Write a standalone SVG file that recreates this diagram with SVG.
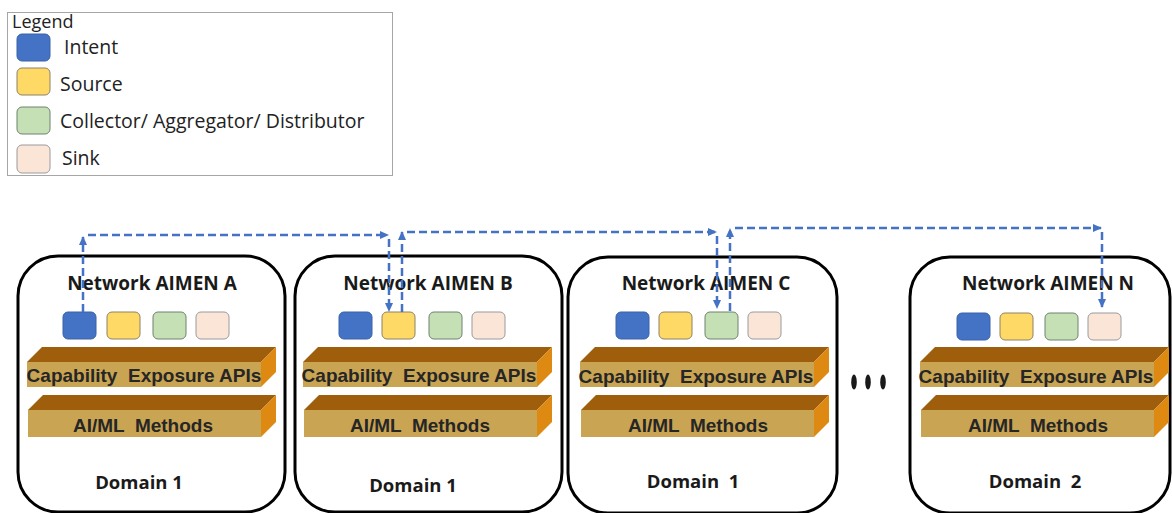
<svg xmlns="http://www.w3.org/2000/svg" width="1172" height="513" viewBox="0 0 1172 513">
<style>
.lg{font-family:"Open Sans","Noto Sans",sans-serif;font-size:19.5px;fill:#222}
.lgt{font-family:"Open Sans","Noto Sans",sans-serif;font-size:18px;fill:#222}
.title{font-family:"Open Sans","Noto Sans",sans-serif;font-size:19px;font-weight:700;fill:#1a1a1a;text-anchor:middle}
.dom{font-family:"Open Sans","Noto Sans",sans-serif;font-size:18.5px;font-weight:700;fill:#1a1a1a;text-anchor:middle}
.bar{font-family:"Liberation Sans",Arial,sans-serif;font-size:19px;font-weight:700;fill:#262626;text-anchor:middle}
.box{fill:#fff;stroke:#000;stroke-width:3}
.top{fill:#9E5E0C}
.front{fill:#C9A452}
.side{fill:#DE8A12}
.sq{stroke-width:1}
.int{fill:#4472C4;stroke:#3A62A8}
.src{fill:#FFD966;stroke:#8C8266}
.col{fill:#C5E0B4;stroke:#6E8270}
.snk{fill:#FBE5D6;stroke:#9A9AA0}
.conn{fill:none;stroke:#4472C4;stroke-width:2.5;stroke-dasharray:8 4}
</style>
<defs>
<marker id="arr" markerUnits="userSpaceOnUse" markerWidth="9" markerHeight="8" refX="8" refY="4" orient="auto">
<path d="M0,0 L9,4 L0,8 z" fill="#4472C4"/>
</marker>
<g id="bars">
<polygon class="top" points="9,107 243,107 258,92 24,92"/>
<rect class="front" x="9" y="107" width="234" height="25"/>
<polygon class="side" points="243,107 258,92 258,117 243,132"/>
<polygon class="top" points="10,155 243,155 258,140 25,140"/>
<rect class="front" x="10" y="155" width="233" height="27"/>
<polygon class="side" points="243,155 258,140 258,167 243,182"/>
</g>
</defs>
<rect width="1172" height="513" fill="#fff"/>

<g id="legend">
<rect x="7.5" y="12.5" width="385" height="163" fill="#fff" stroke="#A6A6A6" stroke-width="1"/>
<text class="lgt" x="12" y="28">Legend</text>
<rect class="sq int" x="17" y="34" width="33" height="27" rx="5"/>
<text class="lg" x="64" y="54">Intent</text>
<rect class="sq src" x="17" y="68" width="33" height="27" rx="5"/>
<text class="lg" x="60" y="91">Source</text>
<rect class="sq col" x="17" y="107" width="33" height="27" rx="5"/>
<text class="lg" x="60" y="128">Collector/ Aggregator/ Distributor</text>
<rect class="sq snk" x="17" y="145" width="33" height="28" rx="5"/>
<text class="lg" x="62" y="165">Sink</text>
</g>

<g id="nodeA" transform="translate(18,0)">
<rect class="box" x="0" y="256" width="267" height="256" rx="40"/>
<text class="title" x="134" y="290">Network AIMEN A</text>
<rect class="sq int" x="45" y="312" width="33" height="27" rx="5"/>
<rect class="sq src" x="89" y="312" width="33" height="27" rx="5"/>
<rect class="sq col" x="135" y="312" width="33" height="27" rx="5"/>
<rect class="sq snk" x="178" y="312" width="33" height="27" rx="5"/>
<use href="#bars" y="255"/>
<text class="bar" x="126" y="382" xml:space="preserve">Capability  Exposure APIs</text>
<text class="bar" x="125" y="432" xml:space="preserve">AI/ML  Methods</text>
<text class="dom" x="121" y="489">Domain 1</text>
</g>

<g id="nodeB" transform="translate(295,0)">
<rect class="box" x="0" y="256" width="267" height="256" rx="40"/>
<text class="title" x="133" y="290">Network AIMEN B</text>
<rect class="sq int" x="44" y="312" width="33" height="27" rx="5"/>
<rect class="sq src" x="87" y="312" width="33" height="27" rx="5"/>
<rect class="sq col" x="134" y="312" width="33" height="27" rx="5"/>
<rect class="sq snk" x="177" y="312" width="33" height="27" rx="5"/>
<use href="#bars" x="-1" y="255"/>
<text class="bar" x="124" y="382" xml:space="preserve">Capability  Exposure APIs</text>
<text class="bar" x="125" y="432" xml:space="preserve">AI/ML  Methods</text>
<text class="dom" x="118" y="492">Domain 1</text>
</g>

<g id="nodeC" transform="translate(568,0)">
<rect class="box" x="0" y="257" width="269" height="256" rx="40"/>
<text class="title" x="138" y="290">Network AIMEN C</text>
<rect class="sq int" x="48" y="312" width="33" height="27" rx="5"/>
<rect class="sq src" x="91" y="312" width="33" height="27" rx="5"/>
<rect class="sq col" x="137" y="312" width="33" height="27" rx="5"/>
<rect class="sq snk" x="180" y="312" width="33" height="27" rx="5"/>
<use href="#bars" x="3" y="255"/>
<text class="bar" x="128" y="383" xml:space="preserve">Capability  Exposure APIs</text>
<text class="bar" x="130" y="432" xml:space="preserve">AI/ML  Methods</text>
<text class="dom" x="125" y="488" xml:space="preserve">Domain  1</text>
</g>

<g id="ellipsis" fill="#1a1a1a">
<ellipse cx="854" cy="382" rx="2.8" ry="7.5"/>
<ellipse cx="868" cy="382" rx="2.8" ry="7.5"/>
<ellipse cx="883" cy="382" rx="2.8" ry="7.5"/>
</g>

<g id="nodeN" transform="translate(910,0)">
<rect class="box" x="0" y="257" width="260" height="256" rx="40"/>
<text class="title" x="138" y="290">Network AIMEN N</text>
<rect class="sq int" x="47" y="313" width="33" height="27" rx="5"/>
<rect class="sq src" x="90" y="313" width="33" height="27" rx="5"/>
<rect class="sq col" x="135" y="313" width="33" height="27" rx="5"/>
<rect class="sq snk" x="178" y="313" width="33" height="27" rx="5"/>
<use href="#bars" x="1" y="255"/>
<text class="bar" x="126" y="383" xml:space="preserve">Capability  Exposure APIs</text>
<text class="bar" x="128" y="432" xml:space="preserve">AI/ML  Methods</text>
<text class="dom" x="125" y="488" xml:space="preserve">Domain  2</text>
</g>

<g id="connectors">
<line class="conn" x1="83" y1="312" x2="83" y2="237" marker-end="url(#arr)"/>
<line class="conn" x1="88" y1="235" x2="388" y2="235" marker-end="url(#arr)"/>
<line class="conn" x1="389" y1="239" x2="389" y2="311" marker-end="url(#arr)"/>
<line class="conn" x1="402" y1="312" x2="402" y2="232" marker-end="url(#arr)"/>
<line class="conn" x1="407" y1="232" x2="716" y2="232" marker-end="url(#arr)"/>
<line class="conn" x1="717" y1="236" x2="717" y2="308" marker-end="url(#arr)"/>
<line class="conn" x1="730" y1="311" x2="730" y2="229" marker-end="url(#arr)"/>
<line class="conn" x1="735" y1="228" x2="1101" y2="228" marker-end="url(#arr)"/>
<line class="conn" x1="1102" y1="232" x2="1102" y2="307" marker-end="url(#arr)"/>
</g>
</svg>
